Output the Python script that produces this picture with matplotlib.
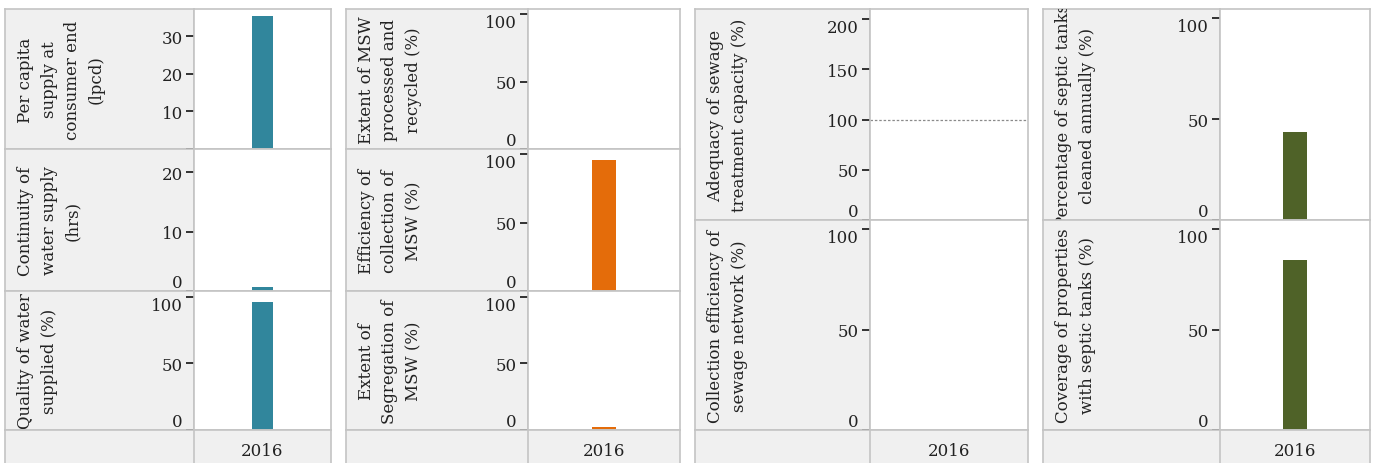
import matplotlib.pyplot as plt

# data
years = ['2016']

water_labels = ['Per capita\nsupply at\nconsumer end\n(lpcd)',
                'Continuity of\nwater supply\n(hrs)',
                'Quality of water\nsupplied (%)']
water_values = [35.5, 0.6, 96]

msw_labels = ['Extent of MSW\nprocessed and\nrecycled (%)',
              'Efficiency of\ncollection of\nMSW (%)',
              'Extent of\nSegregation of\nMSW (%)']
msw_values = [None, 96.3, 2.2]

sewage_labels = ['Adequacy of sewage\ntreatment capacity (%)',
                 'Collection efficiency of\nsewage network (%)']
sewage_values = [None, None]

septic_labels = ['Percentage of septic tanks\ncleaned annually (%)',
                 'Coverage of properties\nwith septic tanks (%)']
septic_values = [43.5, 84.5]

# axis scales per cell
water_ymax = [37.3, 23.9, 104.5]
water_ticks = [[0, 10, 20, 30], [0, 10, 20], [0, 50, 100]]
msw_ymax = [104, 104, 104.5]
msw_ticks = [[0, 50, 100]] * 3
sewage_ymax = [210, 104.5]
sewage_ticks = [[0, 50, 100, 150, 200], [0, 50, 100]]
septic_ymax = [104.5, 104.5]
septic_ticks = [[0, 50, 100]] * 2

W, H = 1377, 464
plt.rcParams['font.family'] = ['DejaVu Serif']
BORDER = '#c4c4c4'
STRIP = '#f0f0f0'
INK = '#222222'


def rect(x0, y0, x1, y1):
    return [x0 / W, 1 - y1 / H, (x1 - x0) / W, (y1 - y0) / H]


def style_spines(ax):
    for s in ax.spines.values():
        s.set_color(BORDER)
        s.set_linewidth(1.2)


def draw_column(fig, x_left, x_div, x_right, row_edges, labels, values,
                ymaxes, ticks, color, refline=None):
    for i, (lab, val) in enumerate(zip(labels, values)):
        top, bot = row_edges[i], row_edges[i + 1]
        sax = fig.add_axes(rect(x_left, top, x_div, bot))
        sax.set_facecolor(STRIP)
        sax.set_xticks([])
        sax.set_yticks([])
        style_spines(sax)
        t = sax.text(12 / (x_div - x_left), 0.5, lab, transform=sax.transAxes,
                     rotation=90, ha='left', va='center', multialignment='center',
                     fontsize=12, color=INK, linespacing=1.5)
        t.set_clip_box(sax.bbox)
        t.set_clip_on(True)

        ax = fig.add_axes(rect(x_div, top, x_right, bot))
        ax.set_facecolor('white')
        style_spines(ax)
        ax.set_xlim(-0.5, 0.5)
        ax.set_ylim(0, ymaxes[i])
        if val is not None:
            ax.bar([0], [val], width=0.16, color=color)
        if refline is not None and i == 0:
            ax.axhline(refline, color='#8a8a8a', lw=0.9, ls=(0, (2, 1.5)))
        ax.set_xticks([])
        tk = ticks[i]
        ax.set_yticks(tk)
        tl = ['' if (v == 0 and len(tk) > 3 and tk[-1] < 50) else str(v) for v in tk]
        ax.set_yticklabels(tl)
        ax.tick_params(axis='y', direction='out', length=6, width=1.3,
                       color=INK, labelsize=12, labelcolor=INK, pad=2)
        for v, lbl in zip(tk, ax.get_yticklabels()):
            if v == 0:
                lbl.set_verticalalignment('bottom')
            elif (ymaxes[i] - v) / ymaxes[i] < 0.08:
                lbl.set_verticalalignment('top')

    # bottom header with year
    bax = fig.add_axes(rect(x_left, row_edges[-1], x_right, H + 2))
    bax.set_facecolor(STRIP)
    bax.set_xlim(x_left, x_right)
    bax.set_ylim(0, 1)
    bax.set_xticks([])
    bax.set_yticks([])
    style_spines(bax)
    bax.axvline(x_div, color=BORDER, lw=1.2)
    bax.text((x_div + x_right) / 2, 0.42, years[0], ha='center', va='center',
             fontsize=12, color=INK)


fig = plt.figure(figsize=(W / 100, H / 100), dpi=100)

draw_column(fig, 5, 194, 331, [10, 150, 292, 431], water_labels, water_values,
            water_ymax, water_ticks, '#31869c')
draw_column(fig, 346, 528, 680, [10, 150, 292, 431], msw_labels, msw_values,
            msw_ymax, msw_ticks, '#e46c0a')
draw_column(fig, 695, 870, 1028, [10, 221, 431], sewage_labels, sewage_values,
            sewage_ymax, sewage_ticks, '#31869c', refline=100)
draw_column(fig, 1043, 1220, 1370, [10, 221, 431], septic_labels, septic_values,
            septic_ymax, septic_ticks, '#4f6228')

fig.savefig('out.png', dpi=100)
